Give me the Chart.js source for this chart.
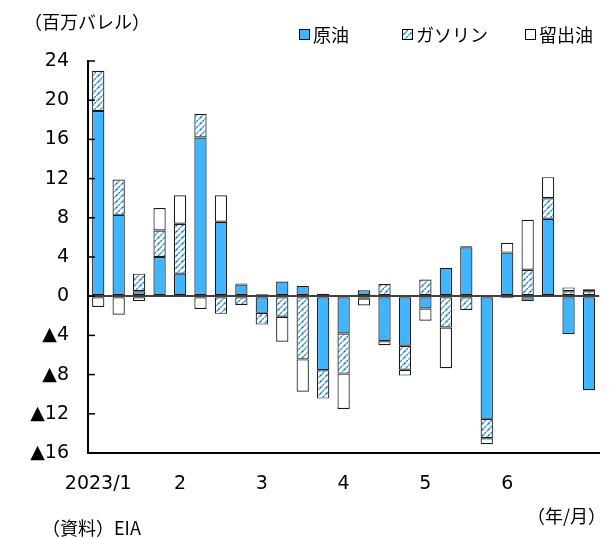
<!DOCTYPE html>
<html>
<head>
<meta charset="utf-8">
<script src="https://cdn.jsdelivr.net/npm/chart.js@4"></script>
<style>
  html, body { margin: 0; padding: 0; background: #fff; }
  #wrap { width: 609px; height: 538px; }
</style>
</head>
<body>
<div id="wrap"><canvas id="chart" width="609" height="538"></canvas></div>
<script>
// weekly changes in US inventories (million barrels)
var weeks = ['1/6','1/13','1/20','1/27','2/3','2/10','2/17','2/24','3/3','3/10','3/17','3/24','3/31',
             '4/7','4/14','4/21','4/28','5/5','5/12','5/19','5/26','6/2','6/9','6/16','6/23'];
var tickLabels = ['2023/1','','','','2','','','','3','','','','4','','','','5','','','','6','','','',''];
var crude    = [18.9, 8.3, 0.5, 4.0, 2.3, 16.2, 7.6, 1.2, -1.7, 1.5, 1.05, -7.55, -3.8,
                0.6, -4.6, -5.05, -1.25, 2.9, 5.0, -12.5, 4.45, -0.5, 7.9, -3.85, -9.6];
var gasoline = [4.1, 3.6, 1.8, 2.7, 5.1, 2.4, -1.8, -0.9, -1.2, -2.1, -6.45, -2.9, -4.1,
                -0.25, 1.25, -2.45, 1.7, -3.2, -1.4, -2.0, -0.2, 2.7, 2.1, 0.5, 0.5];
var distill  = [-1.1, -1.9, -0.5, 2.3, 2.9, -1.3, 2.7, 0.1, 0.2, -2.55, -3.3, 0.25, -3.6,
                -0.7, -0.4, -0.6, -1.25, -4.15, 0.1, -0.6, 1.0, 5.1, 2.15, 0.4, 0.2];
var yTicks = [-16, -12, -8, -4, 0, 4, 8, 12, 16, 20, 24];

var FONT = '"Noto Sans CJK JP", "Noto Sans", sans-serif';
var NUMFONT = '"DejaVu Sans", sans-serif';
var CRUDE_COLOR = '#41b4ff';

// hatch for gasoline: light blue diagonals with darker dots
function makeHatch() {
  var c = document.createElement('canvas');
  c.width = 6; c.height = 6;
  var g = c.getContext('2d');
  g.fillStyle = '#fff';
  g.fillRect(0, 0, 6, 6);
  g.lineWidth = 1.4;
  g.strokeStyle = '#5aaeee';
  g.beginPath();
  g.moveTo(-1, 7); g.lineTo(7, -1);
  g.stroke();
  g.strokeStyle = '#0a6cc8';
  g.setLineDash([1.4, 3]);
  g.beginPath();
  g.moveTo(-1, 7); g.lineTo(7, -1);
  g.stroke();
  return g.createPattern(c, 'repeat');
}
var hatch = makeHatch();

var legendItems = [
  { text: '原油', fill: CRUDE_COLOR, x: 299 },
  { text: 'ガソリン', fill: hatch, x: 402 },
  { text: '留出油', fill: '#fff', x: 525 }
];

var extras = {
  id: 'extras',
  afterDraw: function(chart) {
    var ctx = chart.ctx, y = chart.scales.y, area = chart.chartArea;
    ctx.save();
    // inward ticks on the value axis
    ctx.strokeStyle = '#000';
    ctx.lineWidth = 1.5;
    y.ticks.forEach(function(t) {
      var py = y.getPixelForValue(t.value);
      ctx.beginPath();
      ctx.moveTo(area.left, py);
      ctx.lineTo(area.left + 7, py);
      ctx.stroke();
    });
    // legend
    ctx.font = '18px ' + FONT;
    ctx.textBaseline = 'middle';
    ctx.textAlign = 'left';
    legendItems.forEach(function(it) {
      ctx.fillStyle = it.fill;
      ctx.fillRect(it.x, 29, 10, 10);
      ctx.lineWidth = 1;
      ctx.strokeStyle = '#000';
      ctx.strokeRect(it.x + 0.5, 29.5, 10, 10);
      ctx.fillStyle = '#000';
      ctx.fillText(it.text, it.x + 14, 35);
    });
    // notes
    ctx.fillText('（百万バレル）', 24, 22);
    ctx.fillText('（資料）EIA', 42, 528);
    ctx.textAlign = 'right';
    ctx.fillText('（年/月）', 606, 516);
    ctx.restore();
  }
};

new Chart(document.getElementById('chart'), {
  type: 'bar',
  data: {
    labels: weeks,
    datasets: [
      { label: '原油', data: crude, backgroundColor: CRUDE_COLOR },
      { label: 'ガソリン', data: gasoline, backgroundColor: hatch },
      { label: '留出油', data: distill, backgroundColor: '#fff' }
    ]
  },
  options: {
    responsive: false,
    animation: false,
    devicePixelRatio: 1,
    layout: { padding: { top: 61, left: 0, right: 0, bottom: 0 } },
    datasets: { bar: { borderColor: '#1a1a1a', borderWidth: 1.2, borderSkipped: false,
                       categoryPercentage: 1, barPercentage: 0.6 } },
    plugins: { legend: { display: false }, tooltip: { enabled: false } },
    scales: {
      x: {
        stacked: true,
        grid: { drawOnChartArea: false, drawTicks: false },
        border: { color: '#000', width: 2 },
        ticks: { autoSkip: false, maxRotation: 0, padding: 20, color: '#000',
                 font: { family: NUMFONT, size: 19 },
                 callback: function(v, i) { return tickLabels[i]; } },
        afterFit: function(s) { s.height = 538 - 453; }
      },
      y: {
        stacked: true, min: -16, max: 24,
        afterBuildTicks: function(s) { s.ticks = yTicks.map(function(v) { return { value: v }; }); },
        grid: { drawTicks: false,
                color: function(c) { return c.tick && c.tick.value === 0 ? '#404040' : 'rgba(0,0,0,0)'; },
                lineWidth: function(c) { return c.tick && c.tick.value === 0 ? 2 : 0; } },
        border: { color: '#000', width: 2 },
        ticks: { padding: 19, color: '#000', font: { family: NUMFONT, size: 19 },
                 callback: function(v) { return v < 0 ? '▲' + (-v) : String(v); } },
        afterFit: function(s) { s.width = 88; }
      }
    }
  },
  plugins: [extras]
});
</script>
</body>
</html>
